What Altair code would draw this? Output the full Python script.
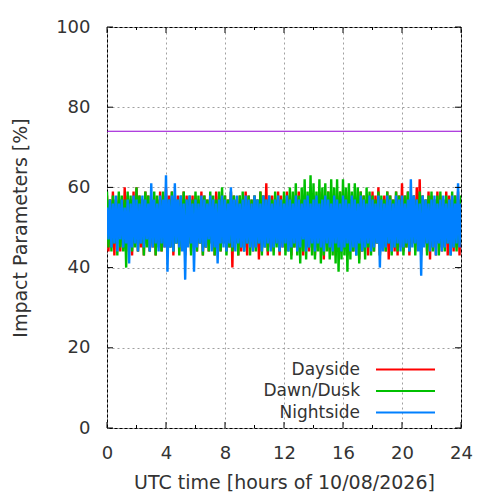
import altair as alt
import pandas as pd

# time grid (hours)
hours = [i / 10 for i in range(241)]

dayside = [
    58,44,57,45,59,43,57,46,58,44,57,45,60,44,58,45,57,43,59,46,
    60,44,58,45,57,43,59,46,58,44,57,45,58,43,57,46,59,44,58,45,
    60,44,58,45,59,43,57,46,58,44,57,45,59,43,58,46,57,44,58,45,
    58,44,57,46,59,43,58,45,57,44,58,46,57,43,59,45,58,44,57,46,
    58,44,57,45,59,40,58,46,57,43,58,44,57,45,59,43,58,46,57,44,
    58,45,57,42,59,44,58,46,61,43,57,45,58,44,57,46,59,43,58,45,
    57,44,59,46,58,43,57,45,58,44,59,46,57,43,58,45,57,44,59,46,
    58,43,57,45,59,44,58,42,57,46,59,44,58,45,57,43,58,46,59,44,
    57,45,58,43,59,46,57,44,58,45,57,42,59,44,58,46,57,43,58,45,
    59,44,58,46,60,43,57,45,58,44,59,42,58,46,57,44,59,43,58,45,
    61,44,58,45,59,43,57,46,58,44,60,45,62,43,58,46,57,44,59,42,
    58,45,57,43,59,46,58,44,57,45,59,43,58,46,57,44,58,45,59,43,
    57,
]

dawn_dusk = [
    59,45,57,44,58,46,57,43,59,45,58,44,57,40,59,46,58,44,57,45,
    60,44,58,46,57,43,59,45,58,44,57,46,59,43,58,45,57,44,59,46,
    58,43,57,45,59,44,58,46,57,43,58,45,59,44,57,46,58,43,57,45,
    59,44,58,46,57,43,58,45,57,44,59,46,58,43,57,45,59,44,60,46,
    58,43,57,45,59,44,58,46,57,43,58,45,59,44,57,46,58,43,57,45,
    58,44,57,46,59,43,58,45,57,44,58,46,57,43,59,45,58,44,57,46,
    59,43,58,44,60,42,59,45,61,43,58,41,60,44,62,42,59,45,63,43,
    61,42,59,44,62,41,60,43,61,44,59,42,62,43,60,41,62,39,59,42,
    62,43,60,39,61,42,59,44,61,43,60,41,59,44,58,42,60,45,59,43,
    58,44,57,46,59,43,58,45,57,44,59,46,58,43,57,45,59,44,58,46,
    57,43,58,45,59,44,57,46,58,43,57,45,59,44,58,46,57,43,58,45,
    59,44,57,46,58,43,59,45,57,44,58,46,57,43,59,45,58,44,57,46,
    58,
]

nightside = [
    55,47,57,45,56,46,58,44,56,47,57,45,55,46,57,41,56,45,58,46,
    57,44,56,46,58,45,57,47,56,44,61,45,57,46,56,44,58,46,57,45,
    63,39,57,45,58,44,61,46,57,45,58,44,56,37,57,45,58,46,56,39,
    57,45,56,46,58,44,57,45,56,47,58,44,57,45,56,41,57,46,58,45,
    57,44,56,46,60,45,57,44,58,46,56,45,57,44,58,46,57,45,56,44,
    58,45,57,46,56,44,58,45,57,46,58,44,56,45,57,46,58,44,57,45,
    56,46,58,44,57,45,56,46,58,44,57,45,56,47,57,44,58,45,56,46,
    57,44,58,46,56,45,57,44,58,46,57,45,56,44,58,46,57,45,56,44,
    58,45,57,46,56,44,58,45,57,43,56,46,58,44,57,45,56,46,58,44,
    57,45,56,46,58,40,57,44,56,45,58,46,57,44,56,45,58,46,57,44,
    58,45,56,46,57,44,62,45,58,46,57,44,56,38,58,45,57,46,56,44,
    57,45,58,43,56,46,57,44,58,45,56,46,57,43,58,45,56,46,61,45,
    56,
]

threshold = 74
x_ticks = [0, 4, 8, 12, 16, 20, 24]
x_minor = [2, 6, 10, 14, 18, 22]
y_ticks = [0, 20, 40, 60, 80, 100]
series_names = ["Dayside", "Dawn/Dusk", "Nightside"]
series_colors = ["#ff0000", "#00c000", "#0080ff"]
series_values = [dayside, dawn_dusk, nightside]

W, H = 354, 401
FONT = "DejaVu Sans"
TXT = "#333333"
xs = alt.Scale(domain=[0, 24], nice=False, zero=False)
ys = alt.Scale(domain=[0, 100], nice=False)
xa = alt.Axis(values=x_ticks, title="UTC time [hours of 10/08/2026]",
              grid=True, gridDash=[2, 3], gridColor="#a0a0a0",
              labelPadding=16, titlePadding=11, labelFlush=False)
ya = alt.Axis(values=y_ticks, title="Impact Parameters [%]",
              grid=True, gridDash=[2, 3], gridColor="#a0a0a0",
              labelPadding=17, titlePadding=25, labelFlush=False)
X = lambda: alt.X("t:Q", scale=xs, axis=xa)
Y = lambda: alt.Y("v:Q", scale=ys, axis=ya)

layers = []
for name, color, vals in zip(series_names, series_colors, series_values):
    df = pd.DataFrame({"t": hours, "v": vals})
    layers.append(
        alt.Chart(df).mark_line(color=color, strokeWidth=2.4, clip=True).encode(x=X(), y=Y())
    )

thr = alt.Chart(pd.DataFrame({"v": [threshold]})).mark_rule(
    color="#9400d3", strokeWidth=1.2).encode(y=Y())
layers.append(thr)

# inward ticks
xt = pd.DataFrame({"t": x_ticks})
xm = pd.DataFrame({"t": x_minor})
yt = pd.DataFrame({"v": y_ticks})
layers += [
    alt.Chart(xt).mark_rule(color="black").encode(x=X(), y=alt.value(H), y2=alt.value(H - 6)),
    alt.Chart(xt).mark_rule(color="black").encode(x=X(), y=alt.value(0), y2=alt.value(6)),
    alt.Chart(xm).mark_rule(color="black").encode(x=X(), y=alt.value(H), y2=alt.value(H - 3)),
    alt.Chart(xm).mark_rule(color="black").encode(x=X(), y=alt.value(0), y2=alt.value(3)),
    alt.Chart(yt).mark_rule(color="black").encode(y=Y(), x=alt.value(0), x2=alt.value(6)),
    alt.Chart(yt).mark_rule(color="black").encode(y=Y(), x=alt.value(W), x2=alt.value(W - 6)),
]

# legend (gnuplot style: label left, line sample right)
one = pd.DataFrame({"a": [0]})
for i, (name, color) in enumerate(zip(series_names, series_colors)):
    yy = 342.5 + 21.5 * i
    layers.append(alt.Chart(one).mark_text(
        align="right", baseline="middle", font=FONT, fontSize=17, color=TXT
    ).encode(text=alt.value(name), x=alt.value(253), y=alt.value(yy)))
    layers.append(alt.Chart(one).mark_rule(color=color, strokeWidth=2).encode(
        x=alt.value(269), x2=alt.value(328), y=alt.value(yy)))

chart = alt.layer(*layers).properties(
    width=W, height=H,
    background="white",
    autosize=alt.AutoSizeParams(type="none"),
    padding={"left": 99, "top": 19, "right": 31, "bottom": 64},
).configure_view(stroke="black", strokeWidth=1).configure_axis(
    domain=False, ticks=False, labelFont=FONT, labelFontSize=18, labelColor=TXT,
    titleFont=FONT, titleFontSize=19, titleFontWeight="normal", titleColor=TXT,
)

chart.save("out.html", embed_options={"renderer": "svg", "actions": False})
